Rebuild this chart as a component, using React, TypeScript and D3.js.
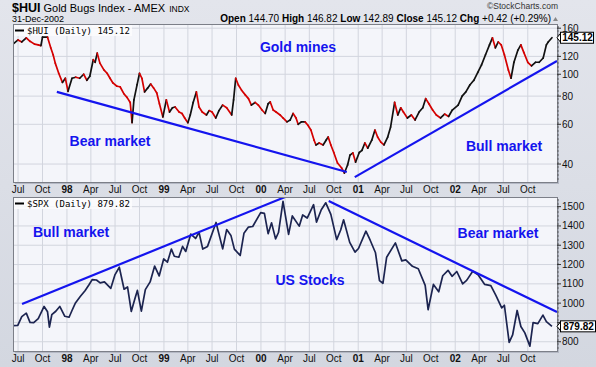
import React from 'react';
import * as d3 from 'd3';

const W = 596, H = 367;

const HUI_DATES = ["1997-06-12","1997-07-01","1997-07-15","1997-08-01","1997-08-15","1997-09-01","1997-09-15","1997-09-25","1997-10-01","1997-10-20","1997-11-01","1997-11-10","1997-11-18","1997-12-01","1997-12-15","1997-12-26","1998-01-05","1998-01-20","1998-02-03","1998-02-18","1998-03-05","1998-03-17","1998-03-28","1998-04-10","1998-04-17","1998-04-25","1998-05-05","1998-05-20","1998-06-01","1998-06-12","1998-06-23","1998-07-08","1998-07-20","1998-08-03","1998-08-15","1998-08-27","1998-09-03","1998-09-10","1998-09-22","1998-10-01","1998-10-10","1998-10-20","1998-11-01","1998-11-12","1998-11-23","1998-12-05","1998-12-15","1998-12-28","1999-01-10","1999-01-22","1999-02-02","1999-02-12","1999-02-27","1999-03-10","1999-03-20","1999-04-01","1999-04-10","1999-04-21","1999-05-03","1999-05-13","1999-05-25","1999-06-10","1999-06-20","1999-07-01","1999-07-15","1999-07-27","1999-08-10","1999-08-25","1999-09-13","1999-09-20","1999-09-28","1999-10-08","1999-10-20","1999-11-03","1999-11-15","1999-11-26","1999-12-10","1999-12-22","2000-01-05","2000-01-17","2000-01-28","2000-02-05","2000-02-16","2000-02-27","2000-03-13","2000-03-24","2000-04-08","2000-04-20","2000-05-01","2000-05-12","2000-05-20","2000-06-01","2000-06-15","2000-06-25","2000-07-07","2000-07-19","2000-07-26","2000-08-07","2000-08-22","2000-09-02","2000-09-10","2000-09-20","2000-10-01","2000-10-15","2000-10-30","2000-11-10","2000-11-22","2000-12-01","2000-12-12","2000-12-22","2001-01-05","2001-01-15","2001-01-26","2001-02-06","2001-02-21","2001-03-05","2001-03-15","2001-03-27","2001-04-08","2001-04-22","2001-05-03","2001-05-18","2001-05-30","2001-06-10","2001-06-20","2001-07-05","2001-07-20","2001-08-03","2001-08-18","2001-09-01","2001-09-12","2001-09-24","2001-10-08","2001-10-22","2001-11-07","2001-11-22","2001-12-07","2001-12-21","2002-01-12","2002-01-27","2002-02-10","2002-02-25","2002-03-12","2002-03-27","2002-04-10","2002-04-25","2002-05-10","2002-05-21","2002-06-01","2002-06-12","2002-06-23","2002-07-05","2002-07-20","2002-07-30","2002-08-10","2002-08-25","2002-09-05","2002-09-16","2002-10-01","2002-10-15","2002-10-30","2002-11-13","2002-11-28","2002-12-10","2002-12-17","2002-12-31"];
const HUI_VALUES = [136,142,139,145,140,136,135,134,146,146,131,122,112,101,92,96,84,96,97,96,100,94,98,116,113,124,112,104.5,101,96,91.5,88.5,88,82,79,75,61,77,90,101,96,83.5,87,90.5,87,82.6,74,64.7,77,68,71,71.6,68,67,64,61,66,75,83.5,71.6,68,66,69,68,64,69,73,71,66,77,96,89.6,85,81,78,73,75,73,69.4,67,74,75.4,69.4,68,66,64,61.5,62.7,67,64,60,61.5,61.5,59.6,56.6,51,48.6,49.6,48.6,51,52.7,48.6,45,40.4,38.5,36.5,39.6,43.8,44.8,40.8,45,46,49.6,47,51,56.6,52.7,50,48.6,52.7,58.4,75,66,71,68,64,66,62.7,68,71,78,74,69.4,66,64,66.6,65,69.4,73,80,83.5,89.6,94,102,110,122,135,145,131,139,135,122,104.5,96,113,128,135,125,113,109,113,113,118,135,139,145.12];

const SPX_DATES = ["1997-06-12","1997-06-30","1997-07-15","1997-08-01","1997-08-15","1997-08-29","1997-09-15","1997-10-07","1997-10-20","1997-10-27","1997-11-05","1997-11-20","1997-12-05","1997-12-24","1998-01-09","1998-01-20","1998-02-02","1998-02-20","1998-03-10","1998-03-25","1998-04-06","1998-04-22","1998-05-06","1998-05-22","1998-06-15","1998-07-01","1998-07-17","1998-08-04","1998-08-17","1998-08-31","1998-09-15","1998-09-23","1998-10-08","1998-10-23","1998-11-10","1998-11-27","1998-12-14","1998-12-31","1999-01-14","1999-01-29","1999-02-09","1999-02-26","1999-03-12","1999-03-24","1999-04-12","1999-04-30","1999-05-13","1999-05-27","1999-06-14","1999-07-16","1999-08-10","1999-08-25","1999-09-10","1999-09-23","1999-10-15","1999-10-29","1999-11-15","1999-12-01","1999-12-31","2000-01-14","2000-01-28","2000-02-10","2000-02-25","2000-03-07","2000-03-24","2000-04-14","2000-04-28","2000-05-24","2000-06-06","2000-06-23","2000-07-17","2000-07-28","2000-08-15","2000-09-01","2000-09-20","2000-10-12","2000-10-27","2000-11-07","2000-11-30","2000-12-20","2001-01-02","2001-01-30","2001-02-15","2001-03-07","2001-03-22","2001-04-04","2001-04-18","2001-05-21","2001-06-14","2001-06-29","2001-07-24","2001-08-15","2001-09-10","2001-09-21","2001-10-11","2001-10-31","2001-11-15","2001-12-05","2001-12-20","2002-01-07","2002-01-29","2002-02-13","2002-03-08","2002-03-28","2002-04-22","2002-05-15","2002-06-03","2002-06-25","2002-07-05","2002-07-23","2002-08-05","2002-08-22","2002-09-05","2002-09-20","2002-10-09","2002-10-21","2002-11-08","2002-11-27","2002-12-10","2002-12-31"];
const SPX_VALUES = [883,885,930,948,900,899,920,983,955,876,940,958,983,932,927,962,1001,1034,1064,1095,1122,1120,1105,1110,1077,1148,1186,1072,1084,957,1029,1066,959,1070,1110,1192,1141,1229,1212,1280,1243,1238,1294,1268,1358,1335,1367,1280,1294,1418,1281,1381,1351,1280,1247,1362,1394,1397,1469,1465,1360,1416,1333,1366,1527,1356,1452,1399,1457,1441,1510,1420,1484,1520,1460,1329,1379,1432,1315,1264,1283,1373,1326,1261,1117,1103,1238,1312,1219,1224,1191,1178,1092,966,1097,1059,1142,1170,1139,1164,1100,1118,1165,1147,1097,1091,1040,976,989,797,835,962,879,846,777,899,894,938,904,879.82];

const HUI_TICKS = [40, 60, 80, 100, 120, 160];
const SPX_TICKS = [800, 900, 1000, 1100, 1200, 1300, 1400, 1500];
const SPX_LABEL_HIDDEN = [900]; // covered by the last-value tag
const MONTH_LABELS = ["", "", "", "Apr", "", "", "Jul", "", "", "Oct", "", ""];

// trend lines: start/end dates and values
const HUI_TREND_DATES = [["1997-11-24", "2000-11-19"], ["2000-12-19", "2003-01-19"]];
const HUI_TREND_VALUES = [[83.5, 36.9], [35.0, 114.6]];
const SPX_TREND_DATES = [["1997-07-16", "2000-04-01"], ["2000-09-12", "2003-01-19"]];
const SPX_TREND_VALUES = [[995, 1550], [1529, 954]];

const parse = d3.timeParse("%Y-%m-%d");
const FONT = "'Liberation Sans', Arial, sans-serif";
const BLUE = "#1414ee";

const L = 13, R = 557;
const TOP = { y0: 24, y1: 182 };
const BOT = { y0: 197, y1: 351 };

export default function App() {
  const x = d3.scaleTime().domain([parse("1997-06-12")!, parse("2003-01-19")!]).range([L, R]);
  const yTop = d3.scaleLog().domain([33.3, 167]).range([TOP.y1, TOP.y0]);
  const yBot = d3.scaleLinear().domain([752, 1550]).range([BOT.y1, BOT.y0]);

  const quarterTicks = d3.timeMonth.every(3)!.range(parse("1997-07-01")!, parse("2002-12-31")!)
    .filter(d => x(d) > L + 1 && x(d) < R - 1);

  const huiPts = HUI_DATES.map((d, i) => [x(parse(d)!), yTop(HUI_VALUES[i])] as [number, number]);
  const spxPts = SPX_DATES.map((d, i) => [x(parse(d)!), yBot(SPX_VALUES[i])] as [number, number]);
  const spxLine = d3.line()(spxPts) || "";

  const tickLabel = (d: Date) => d.getMonth() === 0 ? d3.timeFormat("%y")(d) : MONTH_LABELS[d.getMonth()];

  const panel = (p: { y0: number; y1: number }, yTicks: number[], yS: any, clipId: string) => (
    <g>
      <rect x={L + 2} y={p.y0 + 2} width={R - L} height={p.y1 - p.y0} fill="#b4b8c4" />
      <rect x={L} y={p.y0} width={R - L} height={p.y1 - p.y0} fill="#f4f5fa" />
      {quarterTicks.map((d, i) => (
        <line key={"v" + i} x1={x(d)} x2={x(d)} y1={p.y0} y2={p.y1} stroke="#d2d5de" strokeWidth={1} />
      ))}
      {yTicks.map((t, i) => (
        <line key={"h" + i} x1={L} x2={R} y1={yS(t)} y2={yS(t)} stroke="#d2d5de" strokeWidth={1} />
      ))}
      <clipPath id={clipId}><rect x={L} y={p.y0} width={R - L} height={p.y1 - p.y0} /></clipPath>
    </g>
  );

  const frame = (p: { y0: number; y1: number }) => (
    <rect x={L + 0.5} y={p.y0 + 0.5} width={R - L} height={p.y1 - p.y0} fill="none" stroke="#7c7f88" strokeWidth={1} />
  );

  const rightAxis = (p: { y0: number; y1: number }, yTicks: number[], yS: any, hidden: number[]) => {
    const minor: number[] = [];
    for (let yy = p.y0 + 3; yy < p.y1; yy += 4) minor.push(yy);
    return (
      <g>
        {minor.map((yy, i) => <line key={"m" + i} x1={R} x2={R + 2} y1={yy} y2={yy} stroke="#555" strokeWidth={0.8} />)}
        {yTicks.map((t, i) => (
          <g key={i}>
            <line x1={R} x2={R + 4} y1={yS(t)} y2={yS(t)} stroke="#333" strokeWidth={1} />
            {hidden.indexOf(t) < 0 &&
              <text x={R + 5} y={yS(t)} dy="0.35em" fontSize={10} fontFamily={FONT} fill="#111">{t}</text>}
          </g>
        ))}
      </g>
    );
  };

  const xLabels = (baseline: number) => quarterTicks.map((d, i) => (
    <text key={i} x={x(d)} y={baseline} textAnchor="middle" fontSize={10} fontFamily={FONT}
      fontWeight={d.getMonth() === 0 ? "bold" : "normal"} fill="#111">{tickLabel(d)}</text>
  ));

  const tag = (yv: number, label: string, w: number) => (
    <g>
      <polygon points={`${R},${yv} ${R + 4},${yv - 5} ${R + 4},${yv + 5}`} fill="#fff" stroke="#000" strokeWidth={1} />
      <rect x={R + 3.5} y={yv - 5.5} width={w} height={11} fill="#fff" stroke="#000" strokeWidth={1} />
      <text x={R + 4 + w / 2} y={yv} dy="0.36em" textAnchor="middle" fontSize={10} fontWeight="bold" fontFamily={FONT} fill="#000">{label}</text>
    </g>
  );

  const trend = (dates: string[][], vals: number[][], yS: any) => dates.map((pair, i) => (
    <line key={i} x1={x(parse(pair[0])!)} y1={yS(vals[i][0])} x2={x(parse(pair[1])!)} y2={yS(vals[i][1])}
      stroke={BLUE} strokeWidth={2.2} />
  ));

  const note = (tx: number, ty: number, s: string) => (
    <text x={tx} y={ty} textAnchor="middle" fontSize={14} fontWeight="bold" fontFamily={FONT} fill={BLUE}>{s}</text>
  );

  return (
    <svg width={W} height={H} style={{ position: "absolute", left: 0, top: 0 }}>
      <defs>
        <linearGradient id="bg" x1="0" y1="0" x2="0" y2="1">
          <stop offset="0" stopColor="#e3e5ec" />
          <stop offset="1" stopColor="#d3d7e0" />
        </linearGradient>
      </defs>
      <rect x={0} y={0} width={W} height={H} fill="url(#bg)" />

      {/* header */}
      <text x={12} y={12} fontFamily={FONT} fill="#000">
        <tspan fontSize={12.5} fontWeight="bold">$HUI</tspan>
        <tspan fontSize={11} dx={3}>Gold Bugs Index - AMEX</tspan>
        <tspan fontSize={8.5} dx={4}>INDX</tspan>
      </text>
      <text x={12} y={22} fontFamily={FONT} fontSize={9} fill="#000">31-Dec-2002</text>
      <text x={558} y={9} fontFamily={FONT} fontSize={8.5} textAnchor="end" fill="#333">©StockCharts.com</text>
      <text x={551} y={22} fontFamily={FONT} fontSize={10} textAnchor="end" fill="#000">
        <tspan fontWeight="bold">Open</tspan><tspan> 144.70 </tspan>
        <tspan fontWeight="bold">High</tspan><tspan> 146.82 </tspan>
        <tspan fontWeight="bold">Low</tspan><tspan> 142.89 </tspan>
        <tspan fontWeight="bold">Close</tspan><tspan> 145.12 </tspan>
        <tspan fontWeight="bold">Chg</tspan><tspan> +0.42 (+0.29%)</tspan>
      </text>
      <polygon points="553,21 558,21 555.5,17" fill="#888" />

      {/* top panel */}
      {panel(TOP, HUI_TICKS, yTop, "clipTop")}
      <g clipPath="url(#clipTop)">
        {huiPts.slice(1).map((p, i) => {
          const q = huiPts[i];
          const up = HUI_VALUES[i + 1] >= HUI_VALUES[i];
          return <line key={i} x1={q[0]} y1={q[1]} x2={p[0]} y2={p[1]} stroke={up ? "#111" : "#d40000"} strokeWidth={1.7} strokeLinecap="round" />;
        })}
        {trend(HUI_TREND_DATES, HUI_TREND_VALUES, yTop)}
      </g>
      <rect x={14} y={25} width={118} height={11} fill="#fbfbfd" opacity={0.85} />
      <line x1={15} x2={24} y1={30.5} y2={30.5} stroke="#000" strokeWidth={2} />
      <text x={27} y={34} fontFamily="'DejaVu Sans Mono', monospace" fontSize={9} fill="#000">$HUI (Daily) 145.12</text>
      {note(298, 52, "Gold mines")}
      {note(110, 146, "Bear market")}
      {note(504, 151, "Bull market")}
      {frame(TOP)}
      {rightAxis(TOP, HUI_TICKS, yTop, [])}
      {tag(yTop(145.12), "145.12", 33)}
      {xLabels(193)}

      {/* bottom panel */}
      {panel(BOT, SPX_TICKS, yBot, "clipBot")}
      <g clipPath="url(#clipBot)">
        <path d={spxLine} fill="none" stroke="#1c2450" strokeWidth={1.7} strokeLinejoin="round" />
        {trend(SPX_TREND_DATES, SPX_TREND_VALUES, yBot)}
      </g>
      <rect x={14} y={198} width={118} height={11} fill="#fbfbfd" opacity={0.85} />
      <line x1={15} x2={24} y1={203.5} y2={203.5} stroke="#000" strokeWidth={2} />
      <text x={27} y={207} fontFamily="'DejaVu Sans Mono', monospace" fontSize={9} fill="#000">$SPX (Daily) 879.82</text>
      {note(71, 237, "Bull market")}
      {note(310, 285, "US Stocks")}
      {note(498, 238, "Bear market")}
      {frame(BOT)}
      {rightAxis(BOT, SPX_TICKS, yBot, SPX_LABEL_HIDDEN)}
      {tag(yBot(879.82), "879.82", 35)}
      {xLabels(362)}
    </svg>
  );
}
